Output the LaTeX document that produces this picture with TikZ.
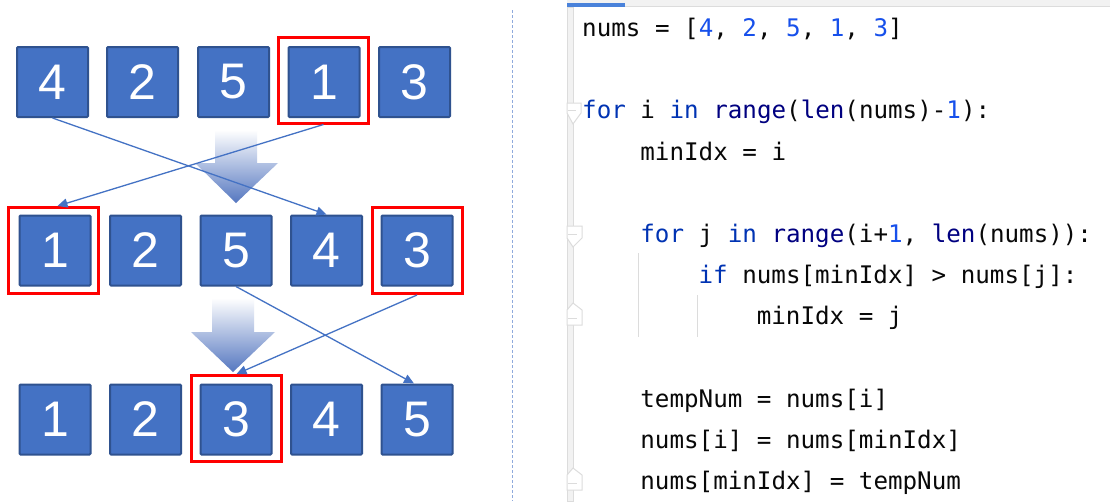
\documentclass[tikz,border=0pt]{standalone}
\usepackage{fontspec}
\usetikzlibrary{arrows.meta,calc}
\newfontfamily\digitfont{Liberation Sans}
\newfontfamily\codefont{DejaVu Sans Mono}
\definecolor{cellfill}{HTML}{4472C4}
\definecolor{cellborder}{HTML}{2F528F}
\definecolor{connblue}{HTML}{4472C4}
\definecolor{gradblue}{HTML}{5577C0}
\definecolor{kwc}{HTML}{0033B3}
\definecolor{bic}{HTML}{000080}
\definecolor{nmc}{HTML}{1750EB}
\definecolor{txc}{HTML}{080808}
\definecolor{sepblue}{HTML}{8FAADC}
\definecolor{guttergray}{HTML}{DCDCDC}
\definecolor{gutterfill}{HTML}{F2F2F2}
\definecolor{tabblue}{HTML}{4A82DA}
\newcommand{\Kw}[1]{\textcolor{kwc}{#1}}
\newcommand{\Bi}[1]{\textcolor{bic}{#1}}
\newcommand{\Nm}[1]{\textcolor{nmc}{#1}}
\tikzset{
  cell/.style={draw=cellborder, fill=cellfill, line width=2pt,
    minimum width=71pt, minimum height=70pt, inner sep=0pt,
    rounded corners=1pt, text=white,
    font=\digitfont\fontsize{50}{50}\selectfont},
  redbox/.style={draw=red, line width=3pt, minimum width=90pt,
    minimum height=86pt, inner sep=0pt},
  conn/.style={draw=connblue, line width=1.3pt,
    -{Triangle[length=10pt,width=9pt]}},
  codeline/.style={anchor=base west, inner sep=0pt, text=txc,
    font=\codefont\fontsize{24.2}{24.2}\selectfont},
  foldmark/.style={draw=guttergray, fill=white, line width=1pt},
  guide/.style={draw=guttergray, line width=1pt},
}
\begin{document}
\begin{tikzpicture}[x=1pt,y=-1pt]
\useasboundingbox[fill=white] (0,0) rectangle (1110,501);

% gradient arrows
\shade[top color=white, bottom color=gradblue]
  (215,130) -- (257,130) -- (257,163) -- (278,163) -- (236,203)
  -- (195,163) -- (215,163) -- cycle;
\shade[top color=white, bottom color=gradblue]
  (212,298) -- (254,298) -- (254,332) -- (275,332) -- (233,372)
  -- (191,332) -- (212,332) -- cycle;

% row 1
\node[cell] (a1) at (52.5,82) {4};
\node[cell] (a2) at (142.5,82) {2};
\node[cell] (a3) at (233.5,82) {5};
\node[cell] (a4) at (324,82) {1};
\node[cell] (a5) at (414.5,82) {3};
\node[redbox] (r1) at (323.5,80) {};

% row 2
\node[cell] (b1) at (55,250.5) {1};
\node[cell] (b2) at (145.5,250.5) {2};
\node[cell] (b3) at (236,250.5) {5};
\node[cell] (b4) at (326.5,250.5) {4};
\node[cell] (b5) at (417,250.5) {3};
\node[redbox] (r2a) at (53.5,250.5) {};
\node[redbox] (r2b) at (417,250.5) {};

% row 3
\node[cell] (c1) at (55,419.5) {1};
\node[cell] (c2) at (145.5,419.5) {2};
\node[cell] (c3) at (236,419.5) {3};
\node[cell] (c4) at (326.5,419.5) {4};
\node[cell] (c5) at (417,419.5) {5};
\node[redbox] (r3) at (236.5,418.5) {};

% connectors
\draw[conn] (a1.south) -- (b4.north);
\draw[conn] (r1.south) -- ([xshift=4pt]r2a.north);
\draw[conn] (b3.south) -- ([xshift=-3pt]c5.north);
\draw[conn] (r2b.south) -- (r3.north);

% separator
\draw[sepblue, line width=0.8pt, dash pattern=on 3pt off 2pt] (512.7,10) -- (512.7,501);

% editor chrome
\fill[gutterfill] (567,0) rectangle (1110,6.5);
\draw[guttergray, line width=1pt] (567,6.5) -- (1110,6.5);
\fill[tabblue] (567,2.5) rectangle (625,6.5);
\filldraw[fill=gutterfill, draw=guttergray, line width=1pt] (567.5,7) rectangle (573.5,501);

% indent guides
\draw[guide] (638,253) -- (638,337);
\draw[guide] (697,295) -- (697,337);

% fold markers
\draw[foldmark] (567,103) -- (581,103) -- (581,113) -- (573,124) -- (567,113) -- cycle;
\draw[guttergray, line width=1pt] (568,110) -- (576,110);
\draw[foldmark] (567,226) -- (582,226) -- (582,238) -- (573,247) -- (567,238) -- cycle;
\draw[guttergray, line width=1pt] (568,234) -- (577,234);
\draw[foldmark] (567,325) -- (582,325) -- (582,310) -- (573,303) -- (567,310) -- cycle;
\draw[guttergray, line width=1pt] (568,318) -- (577,318);
\draw[foldmark] (567,490) -- (582,490) -- (582,475) -- (573,468) -- (567,475) -- cycle;
\draw[guttergray, line width=1pt] (568,483) -- (577,483);

% code
\node[codeline] (l1) at (582,36.5) {nums = [\Nm{4}, \Nm{2}, \Nm{5}, \Nm{1}, \Nm{3}]};
\node[codeline] (l3) at (582,118.9) {\Kw{for} i \Kw{in} \Bi{range}(\Bi{len}(nums)-\Nm{1}):};
\node[codeline] (l4) at (640.2,160.1) {minIdx = i};
\node[codeline] (l6) at (640.2,242.5) {\Kw{for} j \Kw{in} \Bi{range}(i+\Nm{1}, \Bi{len}(nums)):};
\node[codeline] (l7) at (698.4,283.7) {\Kw{if} nums[minIdx] > nums[j]:};
\node[codeline] (l8) at (756.6,324.9) {minIdx = j};
\node[codeline] (l10) at (640.2,407.3) {tempNum = nums[i]};
\node[codeline] (l11) at (640.2,448.5) {nums[i] = nums[minIdx]};
\node[codeline] (l12) at (640.2,489.7) {nums[minIdx] = tempNum};
\end{tikzpicture}
\end{document}
